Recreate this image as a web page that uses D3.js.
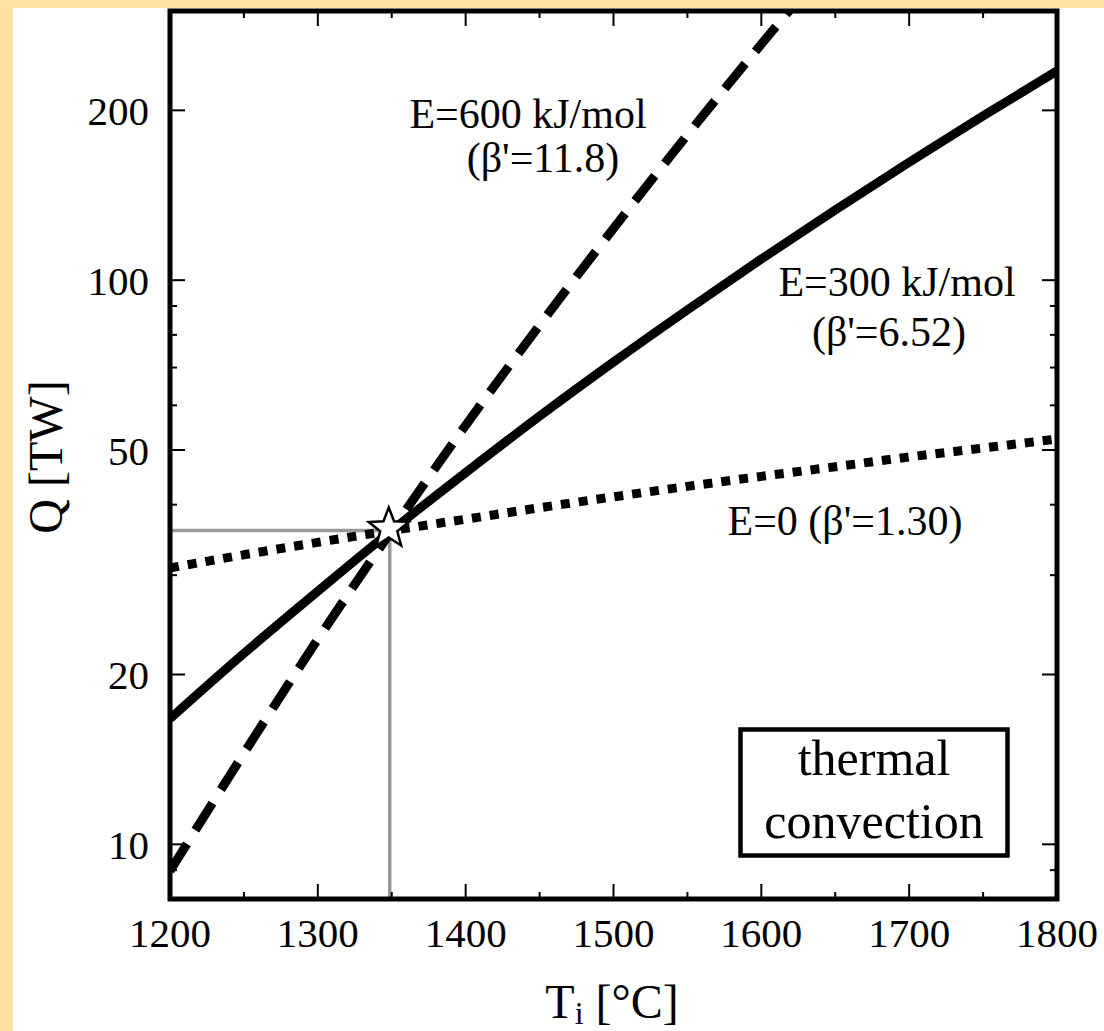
<!DOCTYPE html>
<html>
<head>
<meta charset="utf-8">
<script src="https://cdn.jsdelivr.net/npm/d3@7"></script>
<style>
html,body{margin:0;padding:0;background:#fff;}
svg{display:block;}
text{font-family:"Liberation Serif","Times New Roman",serif;fill:#000;}
</style>
</head>
<body>
<svg id="chart" width="1104" height="1031"></svg>
<script>
// ---- data ----
const temps = [1200,1250,1300,1350,1400,1450,1500,1550,1600,1650,1700,1750,1800];
const qE0   = [30.9,32.6,34.3,36.0,37.7,39.5,41.3,43.1,44.9,46.7,48.6,50.4,52.3];
const qE300 = [16.7,21.8,28.1,36.0,45.6,57.4,71.6,88.6,109.0,133.2,161.8,195.5,234.9];
const tempsE600 = [1200,1250,1300,1350,1400,1450,1500,1550,1600,1650];
const qE600 = [8.97,14.5,23.1,36.0,55.3,83.2,123.5,181.0,262.0,375];
const refPoint = {T:1350, Q:36.0};
const xMajor = [1200,1300,1400,1500,1600,1700,1800];
const xMinor = [1250,1350,1450,1550,1650,1750];
const yMajor = [10,20,50,100,200];
const yMinor = [8,9,30,40,60,70,80,90,300];
const xTitle = "T", xTitleSub = "i", xTitleRest = " [°C]";
const yTitle = "Q [TW]";
const boxLines = ["thermal","convection"];

const svg = d3.select("#chart");
// background frame
svg.append("rect").attr("x",0).attr("y",0).attr("width",1104).attr("height",1031).attr("fill","#FFE2A1");
svg.append("rect").attr("x",13).attr("y",8).attr("width",1091).attr("height",1023).attr("fill","#fff");

const L=170,R=1057,T=11,B=899;
const x = d3.scaleLinear().domain([1200,1800]).range([L,R]);
const y = d3.scaleLog().domain([8,300]).range([B,T]);

svg.append("clipPath").attr("id","clip").append("rect")
  .attr("x",L).attr("y",T).attr("width",R-L).attr("height",B-T);

const plot = svg.append("g").attr("clip-path","url(#clip)");

// gray reference lines
plot.append("line").attr("x1",L).attr("x2",x(refPoint.T)-2).attr("y1",y(refPoint.Q)).attr("y2",y(refPoint.Q))
  .attr("stroke","#999").attr("stroke-width",3.5);
plot.append("line").attr("x1",x(refPoint.T)-2).attr("x2",x(refPoint.T)-2).attr("y1",y(refPoint.Q)).attr("y2",B)
  .attr("stroke","#999").attr("stroke-width",3.5);

const line = d3.line().curve(d3.curveMonotoneX);
function drawSeries(ts, qs, dash){
  plot.append("path")
    .attr("d", line(ts.map((t,i)=>[x(t), y(qs[i])])))
    .attr("fill","none").attr("stroke","#000").attr("stroke-width",9)
    .attr("stroke-dasharray", dash);
}
drawSeries(temps, qE0, "9,9");
drawSeries(temps, qE300, null);
drawSeries(tempsE600, qE600, "32,16");

// star
const star = [];
for(let i=0;i<10;i++){
  const r = i%2===0 ? 21 : 9;
  const a = -Math.PI/2 + i*Math.PI/5;
  star.push([r*Math.cos(a), r*Math.sin(a)]);
}
svg.append("path")
  .attr("d", d3.line()(star)+"Z")
  .attr("transform",`translate(${x(refPoint.T)-3},${y(refPoint.Q)-2})`)
  .attr("fill","#fff").attr("stroke","#000").attr("stroke-width",2.5).attr("stroke-linejoin","miter");

// ticks (inward, all four sides)
const ticks = svg.append("g").attr("stroke","#000").attr("stroke-width",2);
xMajor.concat(xMinor).forEach(v=>{
  const len = xMajor.includes(v)?15:7;
  ticks.append("line").attr("x1",x(v)).attr("x2",x(v)).attr("y1",B).attr("y2",B-len);
  ticks.append("line").attr("x1",x(v)).attr("x2",x(v)).attr("y1",T).attr("y2",T+len);
});
yMajor.concat(yMinor).forEach(v=>{
  const len = yMajor.includes(v)?15:7;
  ticks.append("line").attr("y1",y(v)).attr("y2",y(v)).attr("x1",L).attr("x2",L+len);
  ticks.append("line").attr("y1",y(v)).attr("y2",y(v)).attr("x1",R).attr("x2",R-len);
});

// frame
svg.append("rect").attr("x",L).attr("y",T).attr("width",R-L).attr("height",B-T)
  .attr("fill","none").attr("stroke","#000").attr("stroke-width",5);

// tick labels
svg.append("g").selectAll("text").data(xMajor).join("text")
  .attr("x",d=>x(d)).attr("y",947).attr("text-anchor","middle")
  .attr("font-size",41).text(d=>d);
svg.append("g").selectAll("text").data(yMajor).join("text")
  .attr("x",149).attr("y",d=>y(d)+15).attr("text-anchor","end")
  .attr("font-size",41).text(d=>d);

// axis titles
const xt = svg.append("text").attr("x",612).attr("y",1018).attr("text-anchor","middle").attr("font-size",48);
xt.append("tspan").text(xTitle);
xt.append("tspan").attr("font-size",32).attr("dy",6).text(xTitleSub);
xt.append("tspan").attr("dy",-6).text(xTitleRest);

svg.append("text").attr("transform","translate(62,457) rotate(-90)")
  .attr("text-anchor","middle").attr("font-size",48).text(yTitle);

// annotations
const ann = [
  {t:"E=600 kJ/mol", x:528, y:128},
  {t:"(β'=11.8)", x:543, y:172},
  {t:"E=300 kJ/mol", x:897, y:296},
  {t:"(β'=6.52)", x:889, y:346},
  {t:"E=0 (β'=1.30)", x:845, y:535}
];
svg.append("g").selectAll("text").data(ann).join("text")
  .attr("x",d=>d.x).attr("y",d=>d.y).attr("text-anchor","middle")
  .attr("font-size",42).text(d=>d.t);

// box
svg.append("rect").attr("x",740.5).attr("y",729.5).attr("width",267).attr("height",126)
  .attr("fill","#fff").attr("stroke","#000").attr("stroke-width",4.5);
svg.append("g").selectAll("text").data(boxLines).join("text")
  .attr("x",874).attr("y",(d,i)=>775+i*63).attr("text-anchor","middle")
  .attr("font-size",50).text(d=>d);
</script>
</body>
</html>
